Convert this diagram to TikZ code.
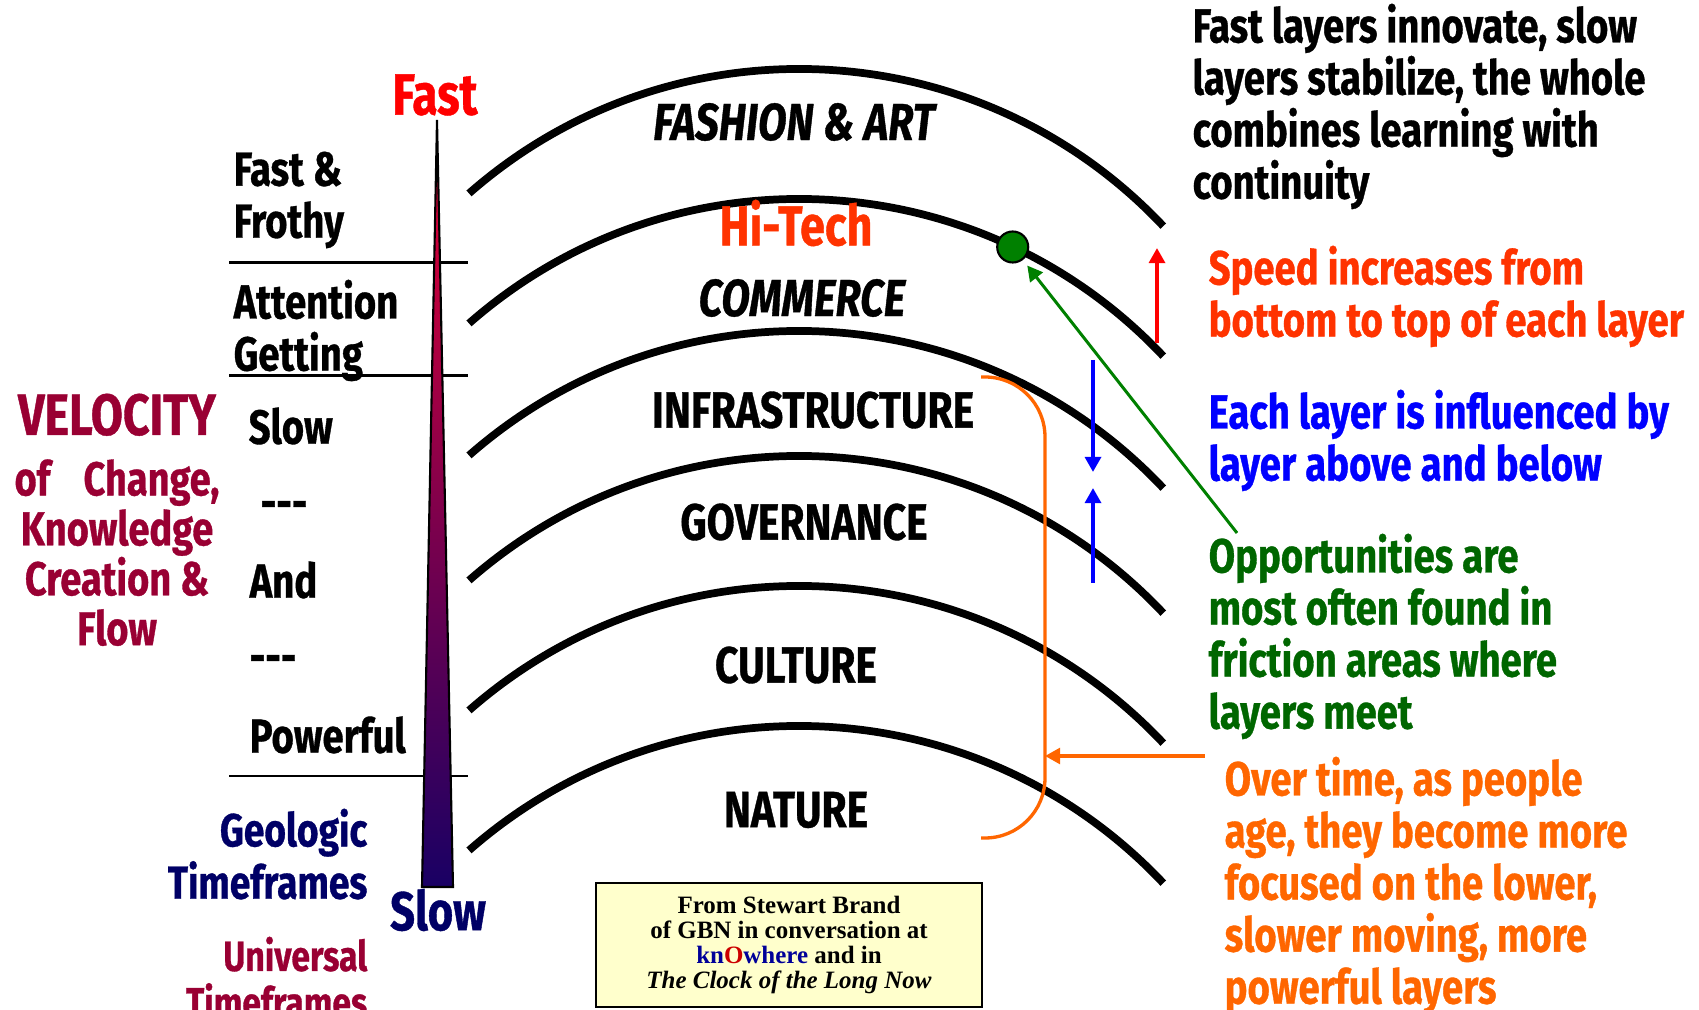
\documentclass[tikz,border=0pt]{standalone}
\usepackage{fontspec}
\usetikzlibrary{arrows.meta}
\newfontfamily\hand{Fira Sans}[FakeStretch=0.8, FakeBold=0.7]
\newfontfamily\boxfont{Liberation Serif}
\newcommand{\handsz}[2]{\hand\bfseries\fontsize{#1}{#2}\selectfont}
\definecolor{crimson}{HTML}{990033}
\definecolor{navy}{HTML}{000066}
\definecolor{hotred}{HTML}{FF3300}
\definecolor{leaf}{HTML}{008000}
\definecolor{forest}{HTML}{006600}
\definecolor{tangerine}{HTML}{FF6600}
\definecolor{cream}{HTML}{FFFFCC}
\definecolor{inkblue}{HTML}{000099}
\definecolor{velTop}{RGB}{235,0,50}
\definecolor{velMid}{RGB}{140,0,85}
\definecolor{velBot}{RGB}{25,0,100}
\tikzset{
  layer/.style={line width=2.2pt},
  divider/.style={line width=0.85pt},
  tag/.style={inner sep=0pt, anchor=west, font=\handsz{13.6}{14.8}},
  tagblock/.style={inner sep=0pt, align=left, anchor=north west, font=\handsz{13.6}{14.8}},
  layername/.style={inner sep=0pt, font=\handsz{14.5}{16}},
  slantname/.style={inner sep=0pt, font=\handsz{14.8}{16}\itshape},
  note/.style={inner sep=0pt, align=left, anchor=north west, font=\handsz{13.6}{14.8}},
  pointer/.style={line width=1.1pt, -{Triangle[length=4.3pt, width=4.5pt]}},
}
\begin{document}
\begin{tikzpicture}[x=0.01cm, y=-0.01cm]
  \useasboundingbox (0,0) rectangle (1699,1010);

  % the six layers
  \foreach \p in {69,199,331,456,586,726}
    \draw[layer] (469,{\p+124.4}) arc[start angle=131.3, end angle=43.3, radius=5cm];

  \node[slantname] (fashion) at (794,122) {FASHION \& ART};
  \node[layername, font=\handsz{16}{18}, text=hotred] (hitech) at (796,223) {Hi-Tech};
  \node[slantname] (commerce) at (802,298) {COMMERCE};
  \node[layername] (infra) at (813,410) {INFRASTRUCTURE};
  \node[layername] (gov) at (804,522) {GOVERNANCE};
  \node[layername] (culture) at (796,665) {CULTURE};
  \node[layername] (nature) at (796,810) {NATURE};

  % velocity scale
  \draw[divider] (229,263) -- (468,263);
  \draw[divider] (229,376) -- (468,376);
  \draw[divider] (229,776) -- (468,776);
  \shade[top color=velTop, middle color=velMid, bottom color=velBot]
    (437,120) -- (453,887) -- (422,887) -- cycle;
  \draw[line width=0.6pt] (437,120) -- (453,887) -- (422,887) -- cycle;
  \node[inner sep=0pt, font=\handsz{16.5}{18}, text=red] (fast) at (435,95) {Fast};
  \node[inner sep=0pt, font=\handsz{15.5}{17}, text=navy] (slow) at (438,910) {Slow};

  \node[tagblock] (frothy) at (233,151) {Fast \&\\Frothy};
  \node[tagblock] (attention) at (233,279) {Attention\\Getting};
  \node[tag] (slowtag) at (248,426) {Slow};
  \node[tag] (dash1) at (260,510) {-{}-{}-};
  \node[tag] (andtag) at (249,580) {And};
  \node[tag] (dash2) at (249,664) {-{}-{}-};
  \node[tag] (powerful) at (249,735) {Powerful};

  \node[inner sep=0pt, align=right, anchor=north east, text=navy, font=\handsz{13.2}{14.9}] (geologic) at (368,808) {Geologic\\Timeframes};
  \node[inner sep=0pt, align=right, anchor=north east, text=crimson, font=\handsz{12}{13.2}] (universal) at (368,936) {Universal\\Timeframes};

  \node[inner sep=0pt, align=center, anchor=north, text=crimson, font=\handsz{13.5}{14.2}] (velocity) at (117,393)
    {{\fontsize{16.5}{18}\selectfont VELOCITY}\\[3pt]of\hspace{0.7em}Change,\\Knowledge\\Creation \&\\Flow};

  % notes on the right
  \node[note] (whole) at (1192,3) {Fast layers innovate, slow\\layers stabilize, the whole\\combines learning with\\continuity};
  \node[note, text=hotred] (speed) at (1208,245) {Speed increases from\\bottom to top of each layer};
  \node[note, text=blue] (influence) at (1208,389) {Each layer is influenced by\\layer above and below};
  \node[note, text=forest] (opp) at (1208,533) {Opportunities are\\most often found in\\friction areas where\\layers meet};
  \node[note, text=tangerine] (age) at (1224,756) {Over time, as people\\age, they become more\\focused on the lower,\\slower moving, more\\powerful layers};

  \node[circle, draw=black, line width=0.6pt, fill=leaf, minimum size=0.31cm, inner sep=0pt] (dot) at (1012.7,247) {};
  \draw[pointer, draw=leaf, fill=leaf, line width=0.85pt, shorten >=2pt] ([xshift=0.29cm]opp.north west) -- (dot);

  \draw[pointer, draw=red, fill=red] (1157,343) -- (1157,248);
  \draw[pointer, draw=blue, fill=blue] (1093,360) -- (1093,472);
  \draw[pointer, draw=blue, fill=blue] (1093,583) -- (1093,488);

  \draw[tangerine, line width=0.95pt, rounded corners=0.6cm] (981,377) -- (1045,377) -- (1045,838) -- (981,838);
  \coordinate (brk) at (1045,758);
  \draw[pointer, draw=tangerine, fill=tangerine, line width=0.95pt] ([xshift=-0.19cm]age.north west) -- (age.north west -| brk);

  \node[draw=black, line width=0.6pt, fill=cream, minimum width=3.86cm, minimum height=1.24cm, align=center, inner sep=0pt,
    font=\boxfont\bfseries\fontsize{7.1}{7.2}\selectfont] (src) at (789,945)
    {From Stewart Brand\\of GBN in conversation at\\\textcolor{inkblue}{kn}\textcolor{red!80!black}{O}\textcolor{inkblue}{where} and in\\\textit{The Clock of the Long Now}};
\end{tikzpicture}
\end{document}
